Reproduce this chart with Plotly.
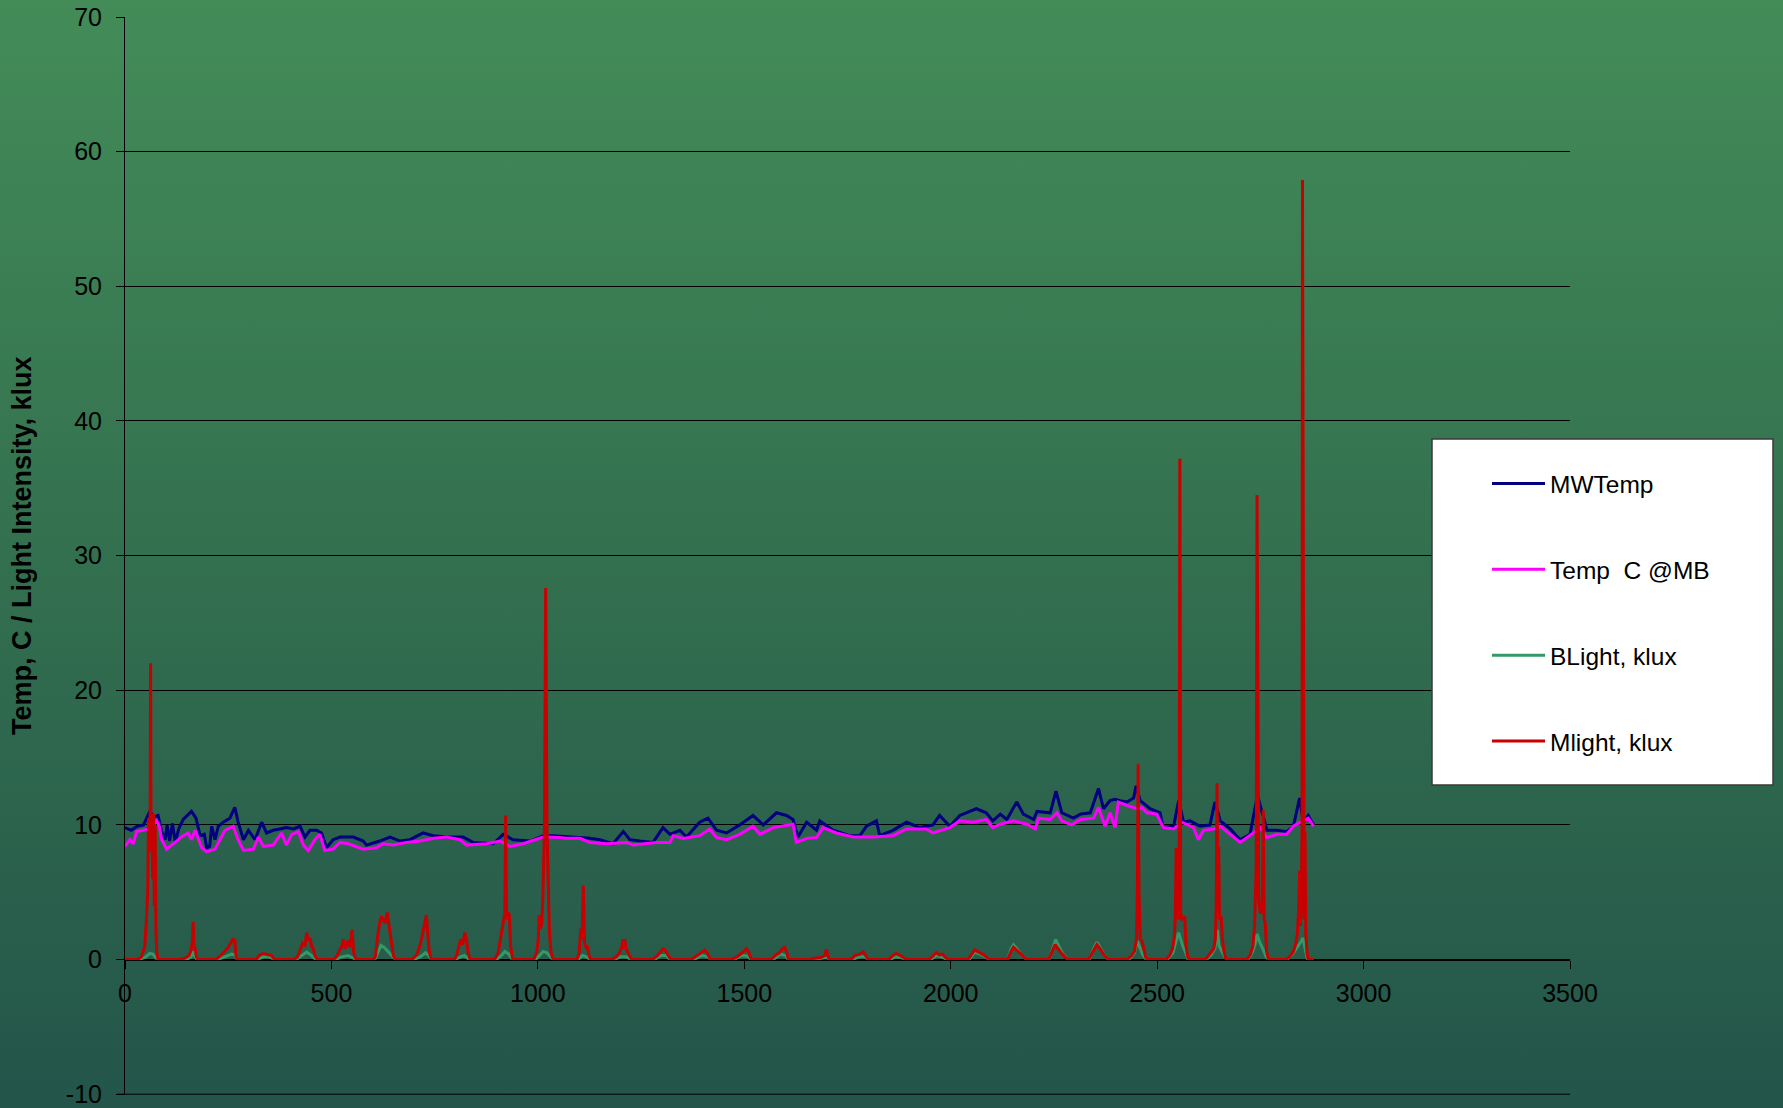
import base64
import plotly.graph_objects as go

# ---------------- data ----------------
MWTEMP_X = [0, 15, 30, 45, 60, 70, 80, 90, 97, 102, 108, 115, 122, 130, 141, 161, 172, 182, 192, 198,
            205, 210, 218, 226, 238, 254, 266, 274, 287, 299, 315, 331, 343, 359, 375, 391, 408, 424, 436, 448,
            464, 476, 488, 504, 521, 553, 577, 585, 617, 642, 666, 690, 722, 747, 779, 819, 843, 892, 916, 940,
            981, 1013, 1037, 1086, 1126, 1150, 1182, 1207, 1223, 1247, 1279, 1303, 1320, 1344, 1360, 1392, 1412, 1433, 1457, 1489,
            1521, 1546, 1578, 1602, 1618, 1630, 1651, 1675, 1683, 1715, 1755, 1780, 1796, 1820, 1828, 1860, 1893, 1925, 1957, 1973,
            1998, 2022, 2062, 2086, 2102, 2120, 2136, 2160, 2176, 2201, 2209, 2241, 2255, 2269, 2297, 2314, 2338, 2358, 2370, 2386,
            2398, 2410, 2427, 2443, 2449, 2459, 2483, 2507, 2515, 2540, 2552, 2564, 2580, 2604, 2628, 2640, 2653, 2677, 2701, 2725,
            2743, 2766, 2790, 2814, 2830, 2845, 2854, 2866, 2879]
MWTEMP_Y = [9.8, 9.6, 9.9, 10.0, 11.0, 10.6, 10.7, 9.4, 8.9, 10.0, 8.8, 10.1, 8.7, 9.7, 10.4, 11.0, 10.5, 9.2, 9.3, 8.3,
            8.4, 9.9, 8.9, 9.9, 10.2, 10.5, 11.3, 10.2, 8.9, 9.6, 8.9, 10.2, 9.4, 9.6, 9.7, 9.8, 9.7, 9.9, 9.1, 9.6,
            9.6, 9.4, 8.3, 8.9, 9.1, 9.1, 8.8, 8.5, 8.8, 9.1, 8.8, 8.9, 9.4, 9.2, 9.1, 9.1, 8.7, 8.6, 9.3, 8.9,
            8.8, 9.2, 9.2, 9.1, 9.0, 8.9, 8.6, 9.5, 8.9, 8.8, 8.7, 9.8, 9.3, 9.6, 9.1, 10.2, 10.5, 9.6, 9.4, 10.0,
            10.7, 10.0, 10.9, 10.7, 10.4, 9.1, 10.2, 9.6, 10.3, 9.6, 9.2, 9.2, 9.9, 10.3, 9.2, 9.6, 10.2, 9.8, 10.0, 10.7,
            9.9, 10.7, 11.2, 10.9, 10.3, 10.8, 10.4, 11.7, 10.8, 10.4, 11.0, 10.9, 12.5, 10.9, 10.5, 10.8, 10.9, 12.7, 11.2, 11.8,
            11.9, 11.8, 11.7, 12.0, 12.9, 11.8, 11.2, 10.9, 9.8, 9.9, 11.8, 10.2, 10.3, 9.9, 10.0, 11.7, 10.3, 9.7, 8.9, 9.3,
            12.2, 9.6, 9.6, 9.5, 9.9, 12.0, 10.2, 10.7, 10.0]

TEMPMB_X = [0, 12, 20, 28, 44, 56, 66, 77, 83, 89, 101, 121, 141, 153, 161, 170, 178, 186, 198, 218,
            230, 242, 262, 274, 287, 311, 323, 335, 359, 379, 391, 404, 420, 432, 444, 460, 472, 484, 504, 521,
            541, 561, 577, 609, 625, 650, 682, 714, 747, 779, 811, 827, 876, 908, 932, 964, 1013, 1053, 1069, 1102,
            1126, 1166, 1215, 1231, 1263, 1287, 1320, 1328, 1352, 1392, 1416, 1433, 1457, 1489, 1521, 1538, 1570, 1618, 1626, 1651,
            1675, 1691, 1723, 1764, 1812, 1860, 1893, 1941, 1957, 1998, 2022, 2054, 2086, 2102, 2120, 2152, 2184, 2205, 2213, 2241,
            2257, 2269, 2293, 2314, 2346, 2358, 2374, 2386, 2398, 2406, 2431, 2451, 2463, 2475, 2499, 2515, 2540, 2560, 2588, 2600,
            2612, 2636, 2653, 2677, 2701, 2733, 2749, 2766, 2790, 2814, 2830, 2846, 2866, 2879]
TEMPMB_Y = [8.4, 8.9, 8.6, 9.5, 9.6, 9.7, 9.9, 10.3, 9.9, 8.9, 8.2, 8.7, 9.2, 9.4, 8.9, 9.6, 8.9, 8.3, 8.0, 8.2,
            8.9, 9.6, 9.9, 8.9, 8.1, 8.2, 9.1, 8.4, 8.5, 9.4, 8.5, 9.3, 9.5, 8.5, 8.1, 8.9, 9.3, 8.1, 8.2, 8.7,
            8.6, 8.4, 8.2, 8.3, 8.6, 8.5, 8.7, 8.8, 9.0, 9.1, 8.9, 8.5, 8.6, 8.8, 8.4, 8.6, 9.1, 9.06, 9.0, 9.0,
            8.7, 8.6, 8.7, 8.5, 8.6, 8.7, 8.7, 9.2, 9.0, 9.2, 9.7, 9.06, 8.9, 9.3, 9.9, 9.3, 9.8, 10.05, 8.7, 9.0,
            9.06, 9.8, 9.4, 9.1, 9.1, 9.2, 9.7, 9.7, 9.4, 9.8, 10.3, 10.2, 10.4, 9.8, 10.05, 10.3, 10.05, 9.7, 10.5, 10.4,
            10.9, 10.3, 10.0, 10.4, 10.5, 11.3, 9.9, 10.9, 9.8, 11.7, 11.4, 11.2, 11.3, 10.9, 10.8, 9.8, 9.7, 10.2, 9.8, 8.9,
            9.6, 9.7, 9.9, 9.3, 8.7, 9.4, 9.8, 9.06, 9.3, 9.3, 9.9, 10.2, 10.5, 9.9]

BLIGHT_X = [0, 35, 50, 60, 68, 75, 80, 150, 160, 164, 168, 174, 225, 240, 258, 266, 270, 320, 335, 350, 362,
            415, 430, 440, 450, 462, 510, 525, 540, 555, 560, 605, 612, 620, 628, 640, 650, 655,
            700, 715, 728, 735, 742, 800, 812, 822, 834, 900, 912, 920, 930, 938,
            995, 1005, 1013, 1022, 1030, 1036, 1098, 1108, 1118, 1126, 1185, 1200, 1215, 1226,
            1283, 1298, 1310, 1320, 1378, 1398, 1412, 1418, 1475, 1495, 1508, 1516, 1570, 1588, 1600, 1606,
            1665, 1685, 1700, 1706, 1762, 1778, 1792, 1800, 1853, 1866, 1880, 1889, 1952, 1965, 1978, 1992,
            2045, 2058, 2075, 2093, 2138, 2146, 2152, 2160, 2172, 2184, 2238, 2247, 2254, 2262, 2272, 2284,
            2336, 2346, 2354, 2362, 2372, 2381, 2432, 2445, 2452, 2458, 2466, 2474,
            2525, 2538, 2546, 2552, 2556, 2562, 2568, 2575, 2620, 2632, 2640, 2646, 2650, 2656, 2664, 2669,
            2720, 2730, 2737, 2742, 2748, 2756, 2764, 2770, 2815, 2830, 2840, 2848, 2853, 2858, 2864, 2879]
BLIGHT_Y = [0, 0, 0.2, 0.45, 0.4, 0.1, 0, 0, 0.2, 0.6, 0.3, 0, 0, 0.2, 0.4, 0.35, 0, 0, 0.2, 0.2, 0,
            0, 0.3, 0.55, 0.35, 0, 0, 0.2, 0.3, 0.1, 0, 0, 0.5, 1.05, 0.9, 0.5, 0.1, 0,
            0, 0.2, 0.5, 0.3, 0, 0, 0.2, 0.3, 0, 0, 0.3, 0.6, 0.4, 0,
            0, 0.3, 0.6, 0.5, 0.2, 0, 0, 0.3, 0.2, 0, 0, 0.2, 0.2, 0,
            0, 0.3, 0.3, 0, 0, 0.3, 0.2, 0, 0, 0.3, 0.25, 0, 0, 0.4, 0.3, 0,
            0, 0.1, 0.15, 0, 0, 0.2, 0.2, 0, 0, 0.2, 0.15, 0, 0, 0.3, 0.2, 0,
            0, 0.55, 0.35, 0, 0, 0.8, 1.1, 0.8, 0.3, 0, 0, 0.8, 1.5, 1.0, 0.4, 0,
            0, 0.8, 1.3, 0.9, 0.3, 0, 0, 0.5, 1.4, 0.9, 0.3, 0,
            0, 0.5, 1.3, 2.0, 1.6, 1.0, 0.6, 0, 0, 0.4, 0.8, 2.2, 1.0, 0.6, 0.2, 0,
            0, 0.5, 1.1, 1.9, 1.3, 0.8, 0.2, 0, 0, 0.5, 0.9, 1.3, 1.6, 0.9, 0, 0]

MLIGHT_X = [0,
            30, 40, 48, 52, 55, 57, 59, 61, 62, 63, 65, 67, 69, 71, 73, 75, 77, 80,
            130, 145, 155, 160, 163, 165, 167, 170, 173, 176,
            220, 232, 242, 250, 255, 260, 262, 264, 266, 268, 270,
            318, 325, 335, 345, 355, 362,
            410, 418, 424, 430, 436, 440, 444, 448, 452, 456, 460, 465,
            505, 512, 517, 525, 529, 533, 541, 545, 550, 554, 558, 562,
            603, 607, 611, 617, 621, 625, 630, 635, 640, 646, 650, 655,
            695, 705, 712, 718, 724, 728, 730, 733, 737, 742,
            798, 803, 807, 813, 818, 823, 827, 831, 836,
            895, 904, 912, 916, 920, 922, 924, 928, 931, 934, 939,
            990, 997, 1001, 1003, 1006, 1009, 1012, 1016, 1019, 1022, 1025, 1028, 1032, 1037,
            1095, 1100, 1104, 1107, 1110, 1113, 1117, 1120, 1124, 1128,
            1180, 1190, 1198, 1203, 1206, 1208, 1210, 1214, 1220, 1227,
            1278, 1290, 1298, 1303, 1308, 1314, 1322,
            1372, 1385, 1398, 1404, 1410, 1418,
            1469, 1482, 1495, 1505, 1510, 1517,
            1565, 1575, 1585, 1592, 1598, 1603, 1607,
            1658, 1670, 1685, 1695, 1699, 1702, 1706,
            1759, 1768, 1780, 1788, 1794, 1800,
            1850, 1860, 1868, 1876, 1884, 1890,
            1948, 1958, 1965, 1972, 1980, 1988, 1994,
            2042, 2050, 2058, 2068, 2080, 2090, 2095,
            2138, 2146, 2152, 2160, 2170, 2180, 2185,
            2237, 2245, 2253, 2260, 2270, 2280, 2286,
            2334, 2345, 2354, 2362, 2372, 2382,
            2428, 2438, 2445, 2450, 2452, 2454, 2456, 2459, 2463, 2467, 2472, 2476,
            2522, 2530, 2537, 2541, 2544, 2546, 2548, 2551, 2553, 2555, 2557, 2560, 2564, 2567, 2570, 2574, 2578,
            2617, 2625, 2632, 2637, 2641, 2643, 2645, 2647, 2649, 2651, 2655, 2658, 2662, 2666, 2670,
            2718, 2726, 2732, 2736, 2738, 2740, 2742, 2744, 2746, 2750, 2753, 2755, 2757, 2759, 2762, 2765, 2770,
            2812, 2820, 2830, 2836, 2840, 2843, 2845, 2847, 2849, 2851, 2852, 2854, 2856, 2858, 2860, 2863, 2866, 2879]
MLIGHT_Y = [0,
            0, 0.2, 1.0, 3.0, 5.0, 10.5, 8.0, 10.8, 22.0, 9.5, 10.7, 6.0, 10.8, 4.0, 10.0, 2.0, 0.5, 0,
            0, 0.1, 0.3, 0.7, 1.3, 2.8, 1.0, 0.8, 0.2, 0,
            0, 0.3, 0.6, 0.9, 1.2, 1.4, 1.56, 1.3, 1.5, 0.5, 0,
            0, 0.3, 0.45, 0.4, 0.3, 0,
            0, 0.2, 0.7, 1.2, 1.0, 2.0, 1.4, 1.6, 1.0, 0.8, 0.3, 0,
            0, 0.2, 0.5, 1.0, 1.5, 0.8, 1.4, 0.9, 2.2, 0.5, 0.1, 0,
            0, 0.3, 1.5, 2.75, 3.2, 3.0, 2.7, 3.5, 2.5, 1.26, 0.3, 0,
            0, 0.3, 0.8, 1.5, 2.3, 2.9, 3.3, 2.0, 0.6, 0,
            0, 0.3, 0.77, 1.5, 1.1, 2.0, 1.5, 0.5, 0,
            0, 0.5, 2.25, 2.75, 3.4, 10.7, 3.0, 3.5, 3.3, 1.0, 0,
            0, 0.5, 1.5, 3.3, 2.3, 2.6, 4.5, 9.9, 27.6, 9.9, 4.5, 2.0, 0.5, 0,
            0, 0.5, 2.3, 1.5, 5.5, 1.2, 0.9, 1.0, 0.3, 0,
            0, 0.2, 0.5, 0.9, 1.5, 0.8, 1.5, 0.8, 0.4, 0,
            0, 0.3, 0.6, 0.8, 0.7, 0.4, 0,
            0, 0.3, 0.6, 0.7, 0.5, 0,
            0, 0.2, 0.5, 0.8, 0.6, 0,
            0, 0.3, 0.5, 0.8, 0.9, 0.5, 0,
            0, 0.1, 0.15, 0.3, 0.77, 0.3, 0,
            0, 0.3, 0.4, 0.57, 0.3, 0,
            0, 0.3, 0.45, 0.35, 0.2, 0,
            0, 0.3, 0.52, 0.35, 0.4, 0.15, 0,
            0, 0.4, 0.72, 0.55, 0.35, 0.1, 0,
            0, 0.6, 0.9, 0.7, 0.4, 0.1, 0,
            0, 0.5, 1.1, 0.8, 0.4, 0.1, 0,
            0, 0.6, 1.1, 0.8, 0.3, 0,
            0, 0.3, 0.6, 1.5, 5.0, 14.5, 5.0, 1.5, 1.4, 0.9, 0.2, 0,
            0, 0.3, 0.8, 1.5, 3.0, 8.3, 3.0, 3.3, 3.0, 37.2, 3.5, 3.0, 3.1, 3.1, 1.0, 0.2, 0,
            0, 0.3, 0.6, 0.8, 1.5, 4.0, 13.1, 4.0, 8.4, 3.0, 3.2, 1.5, 0.6, 0.1, 0,
            0, 0.4, 1.0, 2.5, 4.5, 7.0, 34.5, 7.0, 4.3, 3.5, 3.5, 5.0, 11.1, 3.0, 2.7, 0.6, 0,
            0, 0.2, 0.6, 1.2, 2.0, 4.0, 6.6, 2.5, 4.0, 10.0, 57.9, 8.0, 3.0, 9.5, 2.0, 0.5, 0, 0]

SERIES_NAMES = ["MWTemp", "Temp\u00a0\u00a0C @MB", "BLight, klux", "Mlight, klux"]
SERIES_COLORS = ["#000080", "#FF00FF", "#339966", "#C80000"]
Y_TICKS = [-10, 0, 10, 20, 30, 40, 50, 60, 70]
Y_TICK_TEXT = ["-10", "0", "10", "20", "30", "40", "50", "60", "70"]
X_TICKS = [0, 500, 1000, 1500, 2000, 2500, 3000, 3500]
Y_TITLE = "Temp, C / Light Intensity, klux"

# ---------------- figure ----------------
W, H = 1783, 1108
ML, MR, MT, MB = 125, 213, 17, 13
PW, PH = W - ML - MR, H - MT - MB
FONT = "Liberation Sans, Arial, sans-serif"

def px2fx(px):
    return (px - ML) / PW

def py2fy(py):
    return (H - MB - py) / PH

fig = go.Figure()
xs = [MWTEMP_X, TEMPMB_X, BLIGHT_X, MLIGHT_X]
ys = [MWTEMP_Y, TEMPMB_Y, BLIGHT_Y, MLIGHT_Y]
for i, (sx, sy) in enumerate(zip(xs, ys)):
    fig.add_trace(go.Scatter(
        x=sx, y=sy, mode="lines", name=SERIES_NAMES[i], legendgroup=f"g{i}",
        line=dict(color=SERIES_COLORS[i], width=3), hoverinfo="x+y+name"))

# background gradient as an SVG image covering the whole page
svg = (f'<svg xmlns="http://www.w3.org/2000/svg" width="{W}" height="{H}" preserveAspectRatio="none">'
       '<defs><linearGradient id="g" x1="0" y1="0" x2="0" y2="1">'
       '<stop offset="0" stop-color="#438C58"/><stop offset="0.5" stop-color="#33704F"/>'
       '<stop offset="1" stop-color="#23554A"/></linearGradient></defs>'
       f'<rect width="{W}" height="{H}" fill="url(#g)"/></svg>')
src = "data:image/svg+xml;base64," + base64.b64encode(svg.encode()).decode()

Y_RANGE = [-10.06, 70]

fig.update_layout(
    width=W, height=H,
    margin=dict(l=ML, r=MR, t=MT, b=MB, autoexpand=False),
    paper_bgcolor="#33704F", plot_bgcolor="rgba(0,0,0,0)",
    font=dict(family=FONT, color="black", size=25),
    images=[dict(source=src, xref="paper", yref="paper", x=-ML / PW, y=1 + MT / PH,
                 sizex=W / PW, sizey=H / PH, xanchor="left", yanchor="top",
                 sizing="stretch", layer="below")],
    xaxis=dict(range=[0, 3500], tickvals=X_TICKS, showgrid=False, zeroline=False,
               showline=True, linecolor="black", linewidth=1,
               ticks="outside", ticklen=8, tickcolor="black", tickwidth=1,
               anchor="free", position=(0 - Y_RANGE[0]) / (Y_RANGE[1] - Y_RANGE[0]),
               tickfont=dict(size=25), ticklabelstandoff=3),
    yaxis=dict(range=Y_RANGE, tickvals=Y_TICKS, ticktext=Y_TICK_TEXT,
               showgrid=True, gridcolor="black", gridwidth=1,
               zeroline=False, showline=True, linecolor="black", linewidth=1,
               ticks="outside", ticklen=8, tickcolor="black", tickwidth=1,
               tickfont=dict(size=25), ticklabelstandoff=9),
    annotations=[dict(text=Y_TITLE, xref="paper", yref="paper", x=px2fx(22), y=py2fy(546),
                      xanchor="center", yanchor="middle", textangle=-90, showarrow=False,
                      font=dict(size=27, weight="bold", color="black"))],
    showlegend=True,
    legend=dict(x=px2fx(1487), y=py2fy(461), xanchor="left", yanchor="top",
                bgcolor="rgba(0,0,0,0)", borderwidth=0, itemwidth=53,
                tracegroupgap=51, font=dict(size=24.5, color="black")),
    shapes=[
        # bottom gridline (plotly hides the one at the range edge)
        dict(type="line", xref="paper", yref="y", x0=-8 / PW, x1=1, y0=Y_TICKS[0], y1=Y_TICKS[0],
             layer="below", line=dict(color="black", width=1)),
        dict(type="rect", xref="paper", yref="paper", layer="above",
             x0=px2fx(1432), x1=px2fx(1773), y0=py2fy(785), y1=py2fy(439),
             fillcolor="white", line=dict(color="#3a3a3a", width=1.5)),
    ],
)

fig.write_html("out.html", config={"displayModeBar": False},
               post_script="document.body.style.margin='0';document.body.style.overflow='hidden';")
